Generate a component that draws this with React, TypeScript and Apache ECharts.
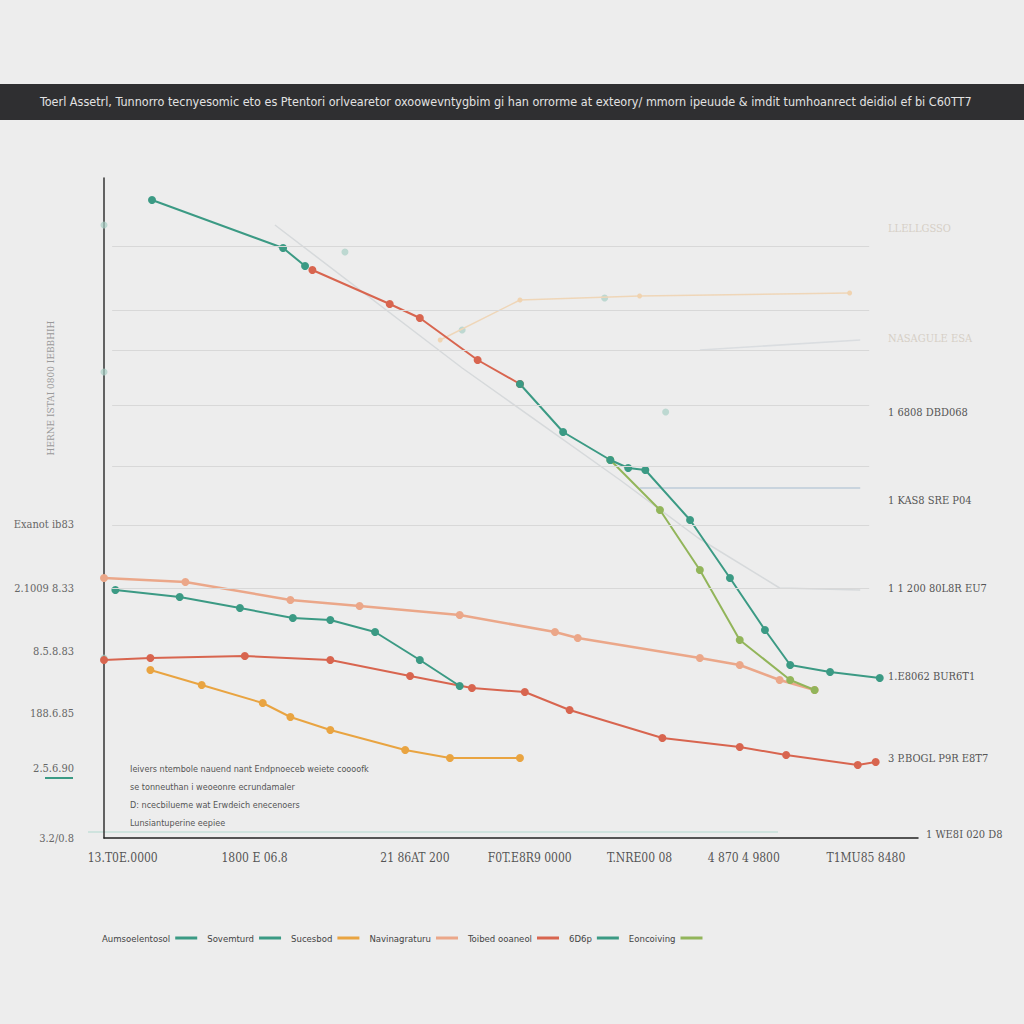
import React, { useEffect, useRef } from "react";
import * as echarts from "echarts";

const titleText =
  "Toerl Assetrl, Tunnorro tecnyesomic eto es Ptentori orlvearetor oxoowevntygbim gi han orrorme at exteory/ mmorn ipeuude & imdit tumhoanrect deidiol ef bi C60TT7";

const xTickValues = [2.3, 18.5, 38.2, 52.3, 65.8, 78.6, 93.6];
const xTickLabels = ["13.T0E.0000", "1800 E 06.8", "21 86AT 200", "F0T.E8R9 0000", "T.NRE00 08", "4 870 4 9800", "T1MU85 8480"];

const leftTickValues = [0, 7, 12.5, 18.7, 25, 31.4];
const leftTickLabels = ["3.2/0.8", "2.5.6.90", "188.6.85", "8.5.8.83", "2.1009 8.33", "Exanot ib83"];

const rightTickValues = [8, 16.2, 25, 33.8, 42.6, 50, 61];
const rightTickLabels = [
  "3 P.BOGL P9R E8T7",
  "1.E8062 BUR6T1",
  "1 1 200 80L8R EU7",
  "1 KAS8 SRE P04",
  "1 6808 DBD068",
  "NASAGULE ESA",
  "LLELLGSSO",
];
const cornerLabel = "1 WE8I 020 D8";

const gridlineValues = [59.2, 52.8, 48.8, 43.3, 37.2, 31.3, 25.0];

const legendNames = ["Aumsoelentosol", "Sovemturd", "Sucesbod", "Navinagraturu", "Toibed ooaneol", "6D6p", "Eoncoiving"];

const tealTop = [[5.9, 63.8], [22.0, 59.0], [24.7, 57.2]];
const redTop = [[25.6, 56.8], [35.1, 53.4], [38.8, 52.0], [45.9, 47.8], [51.1, 45.4]];
const tealDown = [[51.1, 45.4], [56.4, 40.6], [62.2, 37.8], [64.4, 37.0], [66.5, 36.8], [72.0, 31.8], [76.9, 26.0], [81.2, 20.8], [84.3, 17.3], [89.2, 16.6], [95.3, 16.0]];
const oliveDown = [[62.2, 37.8], [68.3, 32.8], [73.2, 26.8], [78.1, 19.8], [84.3, 15.8], [87.3, 14.8]];
const salmonMid = [[0, 26.0], [10.0, 25.6], [22.9, 23.8], [31.4, 23.2], [43.7, 22.3], [55.4, 20.6], [58.2, 20.0], [73.2, 18.0], [78.1, 17.3], [83.0, 15.8], [87.3, 14.8]];
const tealMid = [[1.4, 24.8], [9.3, 24.1], [16.7, 23.0], [23.2, 22.0], [27.8, 21.8], [33.3, 20.6], [38.8, 17.8], [43.7, 15.2]];
const redMid = [[0, 17.8], [5.7, 18.0], [17.3, 18.2], [27.8, 17.8], [37.6, 16.2], [45.2, 15.0], [51.7, 14.6], [57.2, 12.8], [68.6, 10.0], [78.1, 9.1], [83.8, 8.3], [92.6, 7.3], [94.8, 7.6]];
const orangeLow = [[5.7, 16.8], [12.0, 15.3], [19.5, 13.5], [22.9, 12.1], [27.8, 10.8], [37.0, 8.8], [42.5, 8.0], [51.1, 8.0]];

const faintOrange = [[41.3, 49.8], [51.1, 53.8], [65.8, 54.2], [91.6, 54.5]];
const faintGrey = [[21.0, 61.3], [44.0, 47.0], [63.4, 35.8], [73.0, 30.0], [83.0, 25.0], [92.9, 24.8]];
const faintBlue = [[65.8, 35.0], [92.9, 35.0]];
const faintLight = [[73.2, 48.8], [92.9, 49.8]];
const faintDots = [[0, 61.3], [29.6, 58.6], [44.0, 50.8], [61.5, 54.0], [69.0, 42.6], [0, 46.6], [0, 18.0]];

const annotationLines = [
  "Ieivers ntembole nauend nant Endpnoeceb weiete coooofk",
  "se tonneuthan i weoeonre ecrundamaler",
  "D: ncecbilueme wat Erwdeich enecenoers",
  "Lunsiantuperine eepiee",
];

const axisNameText = "HERNE ISTAI 0800 IEBBHIH";

const TEAL = "#3b9a84";
const RED = "#d8654f";
const ORANGE = "#e9a441";
const SALMON = "#eba789";
const OLIVE = "#92b55a";

const NARROW = "'DejaVu Sans Condensed', 'Liberation Sans', sans-serif";
const SERIFC = "'DejaVu Serif Condensed', 'Liberation Serif', serif";

function lookup(values: number[], labels: string[], v: number) {
  for (let i = 0; i < values.length; i++) {
    if (Math.abs(values[i] - v) < 1e-6) return labels[i];
  }
  return "";
}

function lineSeries(name: string, data: number[][], color: string, extra: any = {}) {
  return {
    type: "line",
    name,
    data,
    symbol: "circle",
    symbolSize: 8,
    lineStyle: { color, width: 2 },
    itemStyle: { color },
    ...extra,
  };
}

export default function App() {
  const ref = useRef<HTMLDivElement>(null);
  useEffect(() => {
    if (!ref.current) return;
    const chart = echarts.init(ref.current, undefined, { renderer: "svg" });
    const option: any = {
      animation: false,
      backgroundColor: "#ededed",
      grid: { left: 104, right: 106, top: 178, bottom: 186 },
      xAxis: {
        type: "value",
        min: 0,
        max: 100,
        splitLine: { show: false },
        axisTick: { show: false },
        axisLine: { show: true, lineStyle: { color: "#222", width: 1.5 } },
        axisLabel: {
          show: true,
          customValues: xTickValues,
          formatter: (v: number) => lookup(xTickValues, xTickLabels, v),
          color: "#555",
          fontFamily: SERIFC,
          fontSize: 12,
          margin: 14,
        },
      },
      yAxis: [
        {
          type: "value",
          min: 0,
          max: 66,
          splitLine: { show: false },
          axisTick: { show: false },
          axisLine: { show: true, lineStyle: { color: "#333", width: 1.5 } },
          axisLabel: {
            show: true,
            customValues: leftTickValues,
            formatter: (v: number) => lookup(leftTickValues, leftTickLabels, v),
            color: "#666",
            fontFamily: SERIFC,
            fontSize: 11,
            margin: 30,
          },
        },
        {
          type: "value",
          min: 0,
          max: 66,
          position: "right",
          offset: -30,
          splitLine: { show: false },
          axisTick: { show: false },
          axisLine: { show: false },
          axisLabel: {
            show: true,
            customValues: rightTickValues,
            formatter: (v: number) => {
              const t = lookup(rightTickValues, rightTickLabels, v);
              return v >= 50 ? "{f|" + t + "}" : t;
            },
            color: "#555",
            fontFamily: SERIFC,
            fontSize: 11,
            margin: 0,
            rich: { f: { color: "#d6cfc6", fontSize: 11, fontFamily: SERIFC } },
          },
        },
      ],
      legend: {
        data: legendNames,
        bottom: 76,
        left: 97,
        align: "right",
        itemWidth: 22,
        itemHeight: 3,
        itemGap: 10,
        icon: "rect",
        textStyle: { color: "#444", fontSize: 9.5, fontFamily: NARROW },
      },
      graphic: [
        { type: "rect", left: 0, top: 84, shape: { width: 1024, height: 36 }, style: { fill: "#2f2f31" }, silent: true },
        {
          type: "text",
          left: 40,
          top: 95,
          style: { text: titleText, fill: "#e2e2e2", fontSize: 12.5, fontFamily: NARROW },
        },
        {
          type: "text",
          x: 50,
          y: 388,
          rotation: Math.PI / 2,
          style: { text: axisNameText, fill: "#9a9a9a", fontSize: 10, fontFamily: SERIFC, align: "center", verticalAlign: "middle" },
        },
        {
          type: "text",
          left: 130,
          top: 760,
          style: {
            text: annotationLines.join("\n"),
            fill: "#555",
            fontSize: 9,
            lineHeight: 18,
            fontFamily: NARROW,
          },
        },
        {
          type: "text",
          left: 926,
          top: 829,
          style: { text: cornerLabel, fill: "#555", fontSize: 11, fontFamily: SERIFC },
        },
        { type: "rect", left: 45, top: 777, shape: { width: 28, height: 2 }, style: { fill: TEAL } },
        { type: "rect", left: 88, top: 831, shape: { width: 690, height: 2 }, style: { fill: "#cfe3de" } },
      ],
      series: [
        {
          type: "line",
          name: "grid",
          data: [],
          markLine: {
            silent: true,
            symbol: "none",
            label: { show: false },
            lineStyle: { color: "#d8d8d8", type: "solid", width: 1 },
            data: gridlineValues.map((v) => [{ coord: [1, v] }, { coord: [94, v] }]),
          },
        },
        lineSeries("faint1", faintOrange, "#f0d3b0", { symbolSize: 5, lineStyle: { color: "#efd6b8", width: 1.5 } }),
        lineSeries("faint2", faintGrey, "#c7cdd0", { symbol: "none", lineStyle: { color: "#d6d9db", width: 1.5 } }),
        lineSeries("faint3", faintBlue, "#b8c8d6", { symbol: "none", lineStyle: { color: "#bccbd8", width: 1.5 } }),
        lineSeries("faint4", faintLight, "#d9dde0", { symbol: "none", lineStyle: { color: "#dadde0", width: 1.5 } }),
        {
          type: "scatter",
          name: "dots",
          data: faintDots,
          symbolSize: 7,
          itemStyle: { color: "#a8cfc4", opacity: 0.7 },
        },
        lineSeries("Navinagraturu", salmonMid, SALMON, { lineStyle: { color: SALMON, width: 2.5 } }),
        lineSeries("Sucesbod", orangeLow, ORANGE),
        lineSeries("Toibed ooaneol", redMid, RED),
        lineSeries("Sovemturd", tealMid, TEAL),
        lineSeries("Eoncoiving", oliveDown, OLIVE),
        lineSeries("Aumsoelentosol", tealTop, TEAL),
        lineSeries("Toibed ooaneol", redTop, RED),
        lineSeries("6D6p", tealDown, TEAL),
      ],
    };
    chart.setOption(option);
    return () => chart.dispose();
  }, []);
  return (
    <div
      ref={ref}
      style={{ position: "absolute", left: 0, top: 0, width: 1024, height: 1024 }}
    />
  );
}
